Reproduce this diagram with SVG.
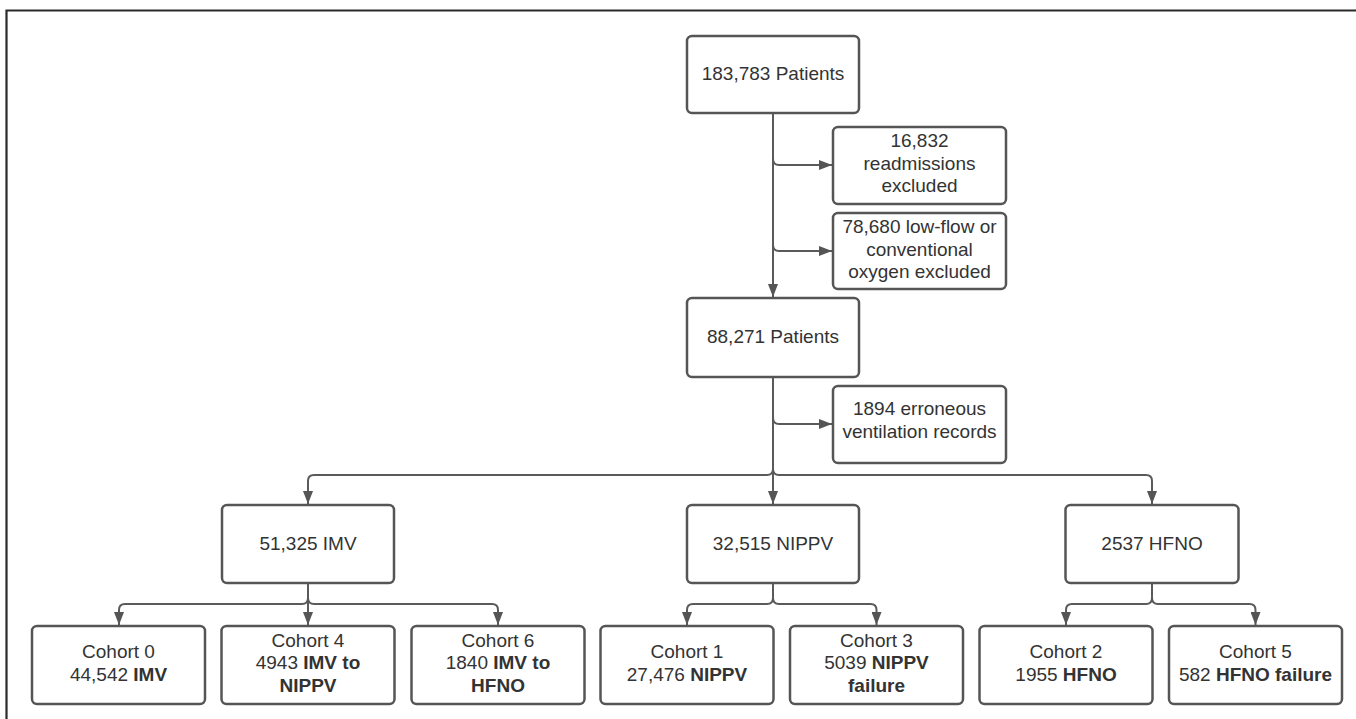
<svg xmlns="http://www.w3.org/2000/svg" width="1356" height="719" viewBox="0 0 1356 719">
<style>
.box{fill:#fff;stroke:#555;stroke-width:2.5}
.t{font-family:"Liberation Sans",Arial,sans-serif;font-size:19px;fill:#333;text-anchor:middle}
.b{font-weight:bold}
.c{fill:none;stroke:#5a5a5a;stroke-width:2}
.a{marker-end:url(#ah)}
</style>
<defs>
<marker id="ah" markerWidth="13" markerHeight="10" refX="13" refY="5" orient="auto" markerUnits="userSpaceOnUse">
<path d="M0,0 L13,5 L0,10 z" fill="#555"/>
</marker>
</defs>
<rect width="1356" height="719" fill="#fff"/>
<path d="M6.5,719 V10.5 H1356" fill="none" stroke="#2a2a2a" stroke-width="2.2"/>

<g id="connectors">
<path class="c a" d="M773,113 V297"/>
<path class="c a" d="M773,159 Q773,165 779,165 H832"/>
<path class="c a" d="M773,245 Q773,251 779,251 H832"/>
<path class="c a" d="M773,377 V504"/>
<path class="c a" d="M773,418 Q773,424 779,424 H832"/>
<path class="c a" d="M773,377 V469 Q773,475 767,475 H314 Q308,475 308,481 V504"/>
<path class="c a" d="M773,377 V469 Q773,475 779,475 H1146 Q1152,475 1152,481 V504"/>
<path class="c a" d="M308,583 V598 Q308,604 302,604 H125 Q119,604 119,610 V625"/>
<path class="c a" d="M308,583 V625"/>
<path class="c a" d="M308,583 V598 Q308,604 314,604 H492 Q498,604 498,610 V625"/>
<path class="c a" d="M773,583 V598 Q773,604 767,604 H693 Q687,604 687,610 V625"/>
<path class="c a" d="M773,583 V598 Q773,604 779,604 H870.5 Q876.5,604 876.5,610 V625"/>
<path class="c a" d="M1152,583 V598 Q1152,604 1146,604 H1072 Q1066,604 1066,610 V625"/>
<path class="c a" d="M1152,583 V598 Q1152,604 1158,604 H1249.5 Q1255.5,604 1255.5,610 V625"/>
</g>

<g id="n_total">
<rect class="box" x="687" y="36" width="172" height="77" rx="5"/>
<text class="t" x="773" y="80">183,783 Patients</text>
</g>
<g id="n_readm">
<rect class="box" x="833" y="127" width="173" height="77" rx="5"/>
<text class="t" x="919.5" y="147">16,832</text>
<text class="t" x="919.5" y="169.7">readmissions</text>
<text class="t" x="919.5" y="192.3">excluded</text>
</g>
<g id="n_lowflow">
<rect class="box" x="833" y="213" width="173" height="76" rx="5"/>
<text class="t" x="919.5" y="233">78,680 low-flow or</text>
<text class="t" x="919.5" y="255.5">conventional</text>
<text class="t" x="919.5" y="278">oxygen excluded</text>
</g>
<g id="n_88271">
<rect class="box" x="687" y="298" width="172" height="79" rx="5"/>
<text class="t" x="773" y="343">88,271 Patients</text>
</g>
<g id="n_erroneous">
<rect class="box" x="833" y="386" width="173" height="77" rx="5"/>
<text class="t" x="919.5" y="415">1894 erroneous</text>
<text class="t" x="919.5" y="438">ventilation records</text>
</g>
<g id="n_imv">
<rect class="box" x="222" y="505" width="172" height="78" rx="5"/>
<text class="t" x="308" y="550">51,325 IMV</text>
</g>
<g id="n_nippv">
<rect class="box" x="687" y="505" width="172" height="78" rx="5"/>
<text class="t" x="773" y="550">32,515 NIPPV</text>
</g>
<g id="n_hfno">
<rect class="box" x="1065.5" y="505" width="173" height="78" rx="5"/>
<text class="t" x="1152" y="550">2537 HFNO</text>
</g>
<g id="n_c0">
<rect class="box" x="32" y="626" width="173" height="78" rx="5"/>
<text class="t" x="118.5" y="657.5">Cohort 0</text>
<text class="t" x="118.5" y="680.5">44,542 <tspan class="b">IMV</tspan></text>
</g>
<g id="n_c4">
<rect class="box" x="221.5" y="626" width="173" height="78" rx="5"/>
<text class="t" x="308" y="646.5">Cohort 4</text>
<text class="t" x="308" y="669.3">4943 <tspan class="b">IMV to</tspan></text>
<text class="t b" x="308" y="692">NIPPV</text>
</g>
<g id="n_c6">
<rect class="box" x="411.5" y="626" width="173" height="78" rx="5"/>
<text class="t" x="498" y="646.5">Cohort 6</text>
<text class="t" x="498" y="669.3">1840 <tspan class="b">IMV to</tspan></text>
<text class="t b" x="498" y="692">HFNO</text>
</g>
<g id="n_c1">
<rect class="box" x="600.5" y="626" width="173" height="78" rx="5"/>
<text class="t" x="687" y="657.5">Cohort 1</text>
<text class="t" x="687" y="680.5">27,476 <tspan class="b">NIPPV</tspan></text>
</g>
<g id="n_c3">
<rect class="box" x="790" y="626" width="173" height="78" rx="5"/>
<text class="t" x="876.5" y="646.5">Cohort 3</text>
<text class="t" x="876.5" y="669.3">5039 <tspan class="b">NIPPV</tspan></text>
<text class="t b" x="876.5" y="692">failure</text>
</g>
<g id="n_c2">
<rect class="box" x="979.5" y="626" width="173" height="78" rx="5"/>
<text class="t" x="1066" y="657.5">Cohort 2</text>
<text class="t" x="1066" y="680.5">1955 <tspan class="b">HFNO</tspan></text>
</g>
<g id="n_c5">
<rect class="box" x="1169" y="626" width="173" height="78" rx="5"/>
<text class="t" x="1255.5" y="657.5">Cohort 5</text>
<text class="t" x="1255.5" y="680.5">582 <tspan class="b">HFNO failure</tspan></text>
</g>
</svg>
